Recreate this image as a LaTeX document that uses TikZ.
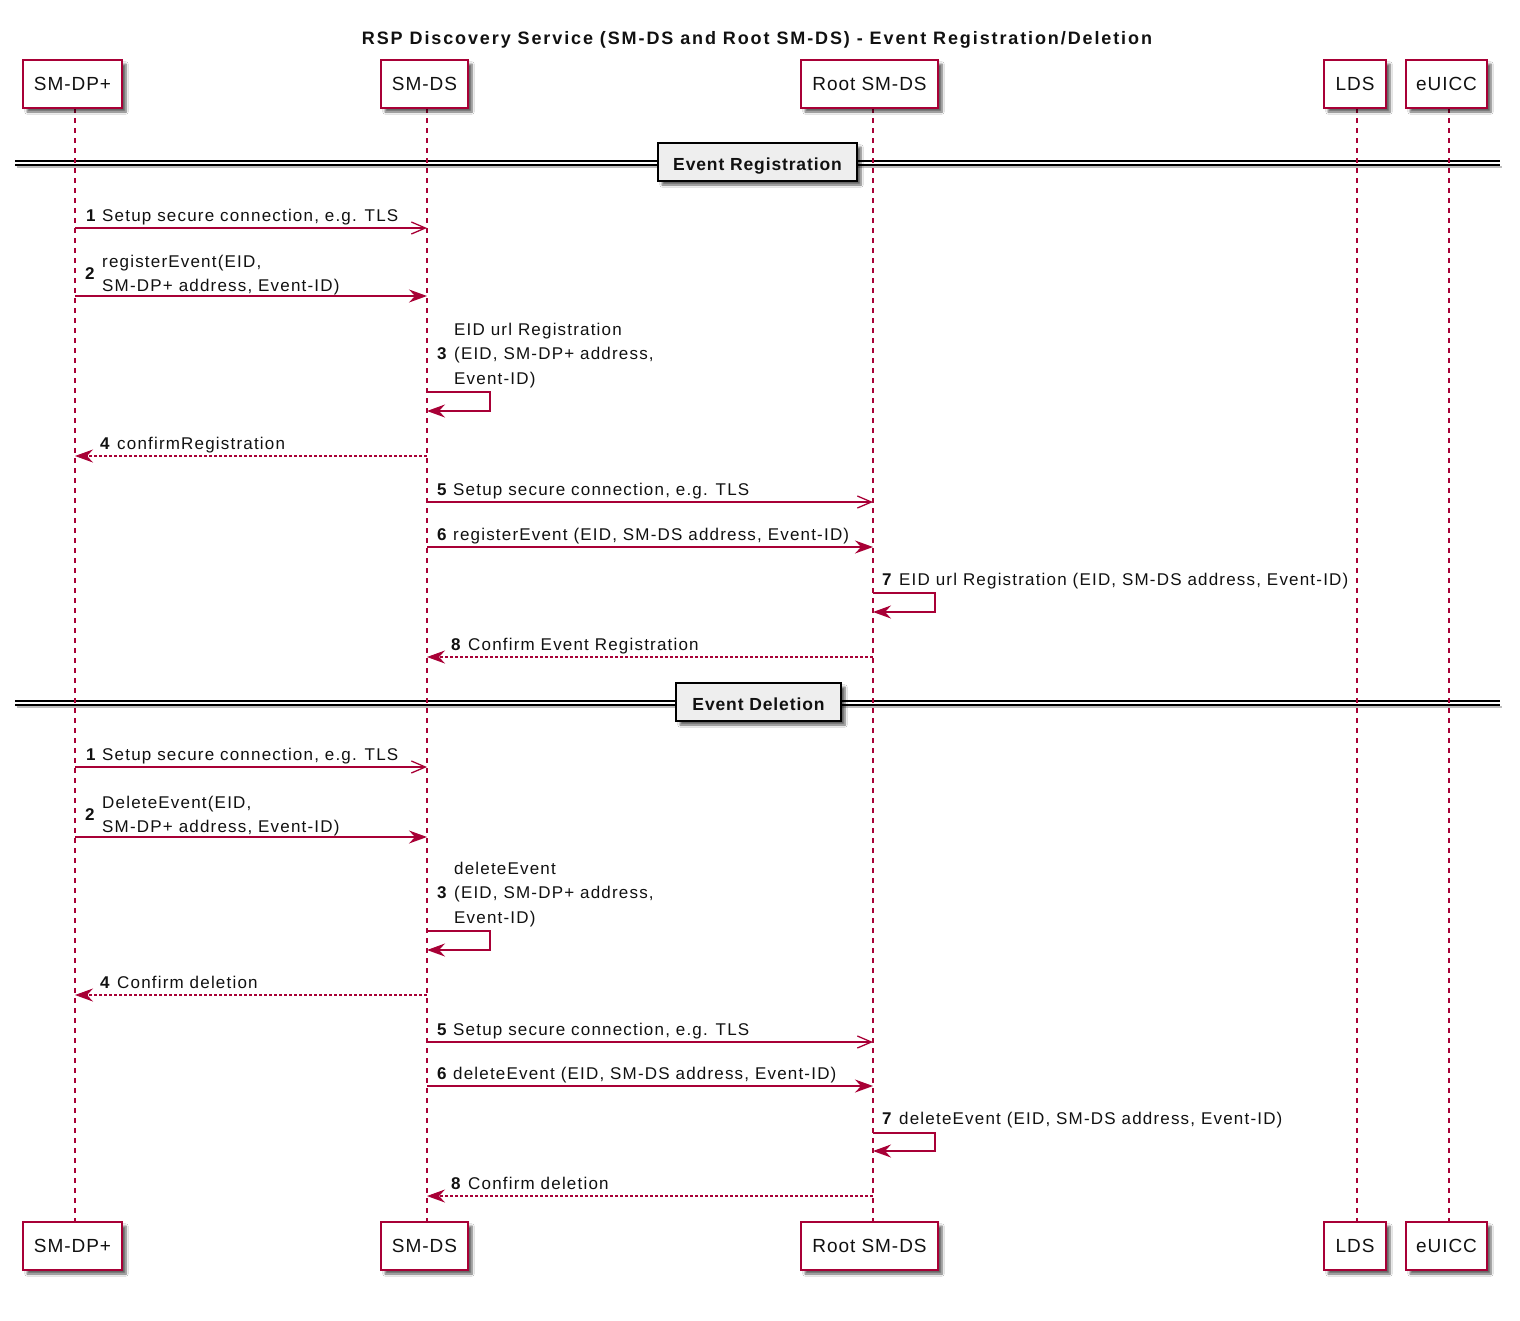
\documentclass[tikz,border=0pt]{standalone}
\usepackage{fontspec}
\setmainfont{Liberation Sans}
\newfontfamily\lblfont{Liberation Sans}[LetterSpace=7]
\newfontfamily\titfont{Liberation Sans}[LetterSpace=10.5]
\newfontfamily\sepfont{Liberation Sans}[LetterSpace=5]
\newfontfamily\partfont{Liberation Sans}[LetterSpace=5]
\usetikzlibrary{arrows.meta,shadows.blur}
\definecolor{pu}{HTML}{A80036}
\definecolor{sepfill}{HTML}{EEEEEE}
\definecolor{txt}{HTML}{111111}
\begin{document}
\begin{tikzpicture}[x=1pt,y=-1pt,
  font=\lblfont\fontsize{17}{21}\selectfont, text=txt,
  pshadow/.style={blur shadow={shadow xshift=4pt,shadow yshift=-4pt,shadow blur steps=6,shadow opacity=60}},
  part/.style={draw=pu, line width=1.5pt, fill=white, minimum height=48pt, inner xsep=0pt, pshadow, font=\partfont\fontsize{19}{22}\selectfont},
  life/.style={draw=pu, line width=1.1pt, dash pattern=on 5pt off 5pt},
  sync/.style={draw=pu, line width=1.3pt, -{Stealth[length=18pt,width=13pt,inset=6pt]}},
  async/.style={draw=pu, line width=1.3pt, -{Straight Barb[length=14pt,width=12pt,line width=1.3pt]}},
  ret/.style={draw=pu, line width=1.1pt, dash pattern=on 3pt off 2pt, -{Stealth[length=18pt,width=13pt,inset=6pt,line width=1pt,sep=0pt]}},
  lbl/.style={anchor=base west, inner sep=0pt},
  num/.style={anchor=base west, inner sep=0pt, font=\lblfont\fontsize{17}{21}\selectfont\bfseries},
  sepbox/.style={draw=black, line width=1.8pt, fill=sepfill, minimum height=38pt, inner xsep=0pt, inner ysep=0pt, text height=17pt, text depth=0pt, font=\sepfont\fontsize{17.5}{20}\selectfont\bfseries, pshadow},
  sepline/.style={draw=black, double=white, double distance=2.5pt, line width=1.3pt},
  sepshadow/.style={draw=black!25, line width=2pt}
]
\useasboundingbox[fill=white] (0,0) rectangle (1520,1320);

% title
\node[anchor=base, inner sep=0pt, font=\titfont\fontsize{18}{22}\selectfont\bfseries] (title) at (757,44) {RSP Discovery Service (SM-DS and Root SM-DS) - Event Registration/Deletion};

% lifeline x positions
\coordinate (lDP) at (75,0);
\coordinate (lDS) at (427,0);
\coordinate (lRT) at (873,0);
\coordinate (lLD) at (1357,0);
\coordinate (lEU) at (1449,0);

% separator lines (behind)
\draw[sepshadow] (17,167) -- (1502,167);
\draw[sepline] (15,163) -- (1500,163);
\draw[sepshadow] (17,707) -- (1502,707);
\draw[sepline] (15,703) -- (1500,703);

% lifelines
\draw[life] (lDP |- 0,108) -- (lDP |- 0,1221);
\draw[life] (lDS |- 0,108) -- (lDS |- 0,1221);
\draw[life] (lRT |- 0,108) -- (lRT |- 0,1221);
\draw[life] (lLD |- 0,108) -- (lLD |- 0,1221);
\draw[life] (lEU |- 0,108) -- (lEU |- 0,1221);

% participants
\node[part, minimum width=99pt] (dp) at (72.5,84) {SM-DP+};
\node[part, minimum width=87pt] (ds) at (424.5,84) {SM-DS};
\node[part, minimum width=137pt] (rt) at (869.5,84) {Root SM-DS};
\node[part, minimum width=62pt] (ld) at (1355,84) {LDS};
\node[part, minimum width=81pt] (eu) at (1446.5,84) {eUICC};
\node[part, minimum width=99pt] (dpb) at (72.5,1246) {SM-DP+};
\node[part, minimum width=87pt] (dsb) at (424.5,1246) {SM-DS};
\node[part, minimum width=137pt] (rtb) at (869.5,1246) {Root SM-DS};
\node[part, minimum width=62pt] (ldb) at (1355,1246) {LDS};
\node[part, minimum width=81pt] (eub) at (1446.5,1246) {eUICC};

% separator boxes
\node[sepbox, minimum width=199pt] (sep1) at (757.5,162) {Event Registration};
\node[sepbox, minimum width=165pt] (sep2) at (758.5,702) {Event Deletion};

% ===== Event Registration =====
\draw[async] (lDP |- 0,228) -- (lDS |- 0,228);
\node[num] (r1n) at (86,221) {1};
\node[lbl] (r1t) at (102,221) {Setup secure connection, e.g. TLS};

\draw[sync] (lDP |- 0,296) -- (lDS |- 0,296);
\node[num] (r2n) at (85,279) {2};
\node[lbl] (r2a) at (102,267) {registerEvent(EID,};
\node[lbl] (r2b) at (102,291) {SM-DP+ address, Event-ID)};

\draw[sync] (lDS |- 0,392) -- (490,392) -- (490,411) -- (lDS |- 0,411);
\node[num] (r3n) at (437,359) {3};
\node[lbl] (r3a) at (454,335) {EID url Registration};
\node[lbl] (r3b) at (454,359) {(EID, SM-DP+ address,};
\node[lbl] (r3c) at (454,384) {Event-ID)};

\draw[ret] (lDS |- 0,456) -- (lDP |- 0,456);
\node[num] (r4n) at (100,449) {4};
\node[lbl] (r4t) at (117,449) {confirmRegistration};

\draw[async] (lDS |- 0,502) -- (lRT |- 0,502);
\node[num] (r5n) at (437,495) {5};
\node[lbl] (r5t) at (453,495) {Setup secure connection, e.g. TLS};

\draw[sync] (lDS |- 0,547) -- (lRT |- 0,547);
\node[num] (r6n) at (437,540) {6};
\node[lbl] (r6t) at (453,540) {registerEvent (EID, SM-DS address, Event-ID)};

\draw[sync] (lRT |- 0,593) -- (935,593) -- (935,612) -- (lRT |- 0,612);
\node[num] (r7n) at (882,585) {7};
\node[lbl] (r7t) at (899,585) {EID url Registration (EID, SM-DS address, Event-ID)};

\draw[ret] (lRT |- 0,657) -- (lDS |- 0,657);
\node[num] (r8n) at (451,650) {8};
\node[lbl] (r8t) at (468,650) {Confirm Event Registration};

% ===== Event Deletion =====
\draw[async] (lDP |- 0,767) -- (lDS |- 0,767);
\node[num] (d1n) at (86,760) {1};
\node[lbl] (d1t) at (102,760) {Setup secure connection, e.g. TLS};

\draw[sync] (lDP |- 0,837) -- (lDS |- 0,837);
\node[num] (d2n) at (85,820) {2};
\node[lbl] (d2a) at (102,808) {DeleteEvent(EID,};
\node[lbl] (d2b) at (102,832) {SM-DP+ address, Event-ID)};

\draw[sync] (lDS |- 0,931) -- (490,931) -- (490,950) -- (lDS |- 0,950);
\node[num] (d3n) at (437,898) {3};
\node[lbl] (d3a) at (454,874) {deleteEvent};
\node[lbl] (d3b) at (454,898) {(EID, SM-DP+ address,};
\node[lbl] (d3c) at (454,923) {Event-ID)};

\draw[ret] (lDS |- 0,995) -- (lDP |- 0,995);
\node[num] (d4n) at (100,988) {4};
\node[lbl] (d4t) at (117,988) {Confirm deletion};

\draw[async] (lDS |- 0,1042) -- (lRT |- 0,1042);
\node[num] (d5n) at (437,1035) {5};
\node[lbl] (d5t) at (453,1035) {Setup secure connection, e.g. TLS};

\draw[sync] (lDS |- 0,1086) -- (lRT |- 0,1086);
\node[num] (d6n) at (437,1079) {6};
\node[lbl] (d6t) at (453,1079) {deleteEvent (EID, SM-DS address, Event-ID)};

\draw[sync] (lRT |- 0,1133) -- (935,1133) -- (935,1151) -- (lRT |- 0,1151);
\node[num] (d7n) at (882,1124) {7};
\node[lbl] (d7t) at (899,1124) {deleteEvent (EID, SM-DS address, Event-ID)};

\draw[ret] (lRT |- 0,1196) -- (lDS |- 0,1196);
\node[num] (d8n) at (451,1189) {8};
\node[lbl] (d8t) at (468,1189) {Confirm deletion};
\end{tikzpicture}
\end{document}
